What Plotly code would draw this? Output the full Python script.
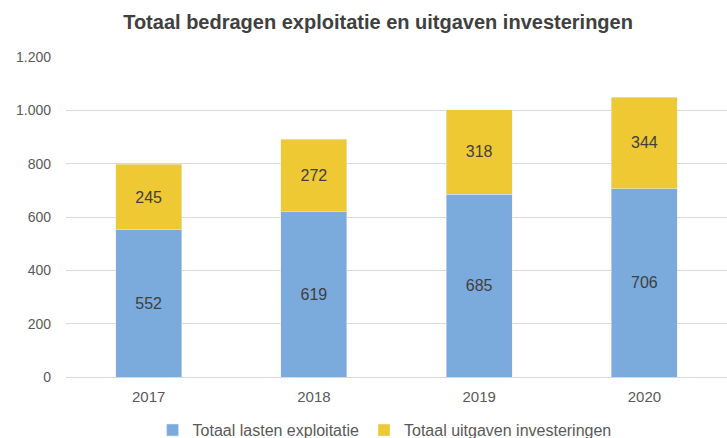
import plotly.graph_objects as go

years = ["2017", "2018", "2019", "2020"]
lasten = [552, 619, 685, 706]
investeringen = [245, 272, 318, 344]

fig = go.Figure()
fig.add_trace(go.Bar(
    x=years, y=lasten, name="Totaal lasten exploitatie",
    marker=dict(color="#7BAADD"),
    text=lasten, textposition="inside", insidetextanchor="middle",
    textfont=dict(color="#404040", size=16, family="Liberation Sans"),
))
fig.add_trace(go.Bar(
    x=years, y=investeringen, name="Totaal uitgaven investeringen",
    marker=dict(color="#EFC934"),
    text=investeringen, textposition="inside", insidetextanchor="middle",
    textfont=dict(color="#404040", size=16, family="Liberation Sans"),
))

fig.update_layout(
    barmode="stack", bargap=0.6,
    width=727, height=438,
    separators=",.",
    paper_bgcolor="white", plot_bgcolor="white",
    font=dict(family="Liberation Sans", color="#595959"),
    title=dict(
        text="<b>Totaal bedragen exploitatie en uitgaven investeringen</b>",
        x=0.52, xanchor="center", y=0.95, yanchor="middle",
        font=dict(size=20, color="#404040"),
    ),
    margin=dict(l=66, r=0, t=57, b=61, autoexpand=False),
    xaxis=dict(
        showgrid=False, showline=True, linecolor="#D9D9D9", linewidth=1,
        tickfont=dict(size=15, color="#595959"), ticks="", automargin=False,
        ticklabelstandoff=6,
    ),
    yaxis=dict(
        range=[0, 1200], dtick=200, tickformat=",d",
        showgrid=True, gridcolor="#D9D9D9", zeroline=False,
        tickfont=dict(size=14, color="#595959"), ticks="",
        ticklabelstandoff=14, automargin=False,
    ),
    legend=dict(
        orientation="h", x=0.131, xanchor="left",
        yref="container", y=0.018, yanchor="middle",
        font=dict(size=16, color="#595959"), traceorder="normal",
    ),
    showlegend=True,
)

fig.write_html("out.html", post_script="document.body.style.margin='0';",
               config={"displayModeBar": False})
